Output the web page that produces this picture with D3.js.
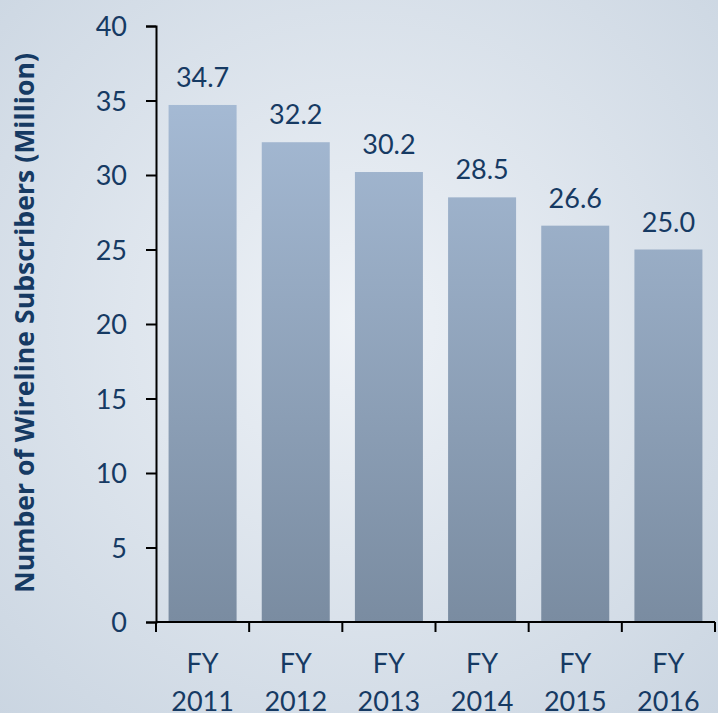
<!DOCTYPE html>
<html><head><meta charset="utf-8">
<script src="https://cdn.jsdelivr.net/npm/d3@7/dist/d3.min.js"></script>
<style>html,body{margin:0;padding:0;overflow:hidden;}svg{display:block;}</style>
</head><body>
<script>
const categories = ["FY 2011","FY 2012","FY 2013","FY 2014","FY 2015","FY 2016"];
const values = [34.7, 32.2, 30.2, 28.5, 26.6, 25.0];
const yTicks = [0,5,10,15,20,25,30,35,40];
const yTitle = "Number of Wireline Subscribers (Million)";

const W = 718, H = 713;
const svg = d3.select("body").append("svg").attr("width", W).attr("height", H);
const defs = svg.append("defs");
const bg = defs.append("radialGradient").attr("id","bg").attr("cx","0.5").attr("cy","0.45").attr("r","0.75");
bg.append("stop").attr("offset","0%").attr("stop-color","#eef2f7");
bg.append("stop").attr("offset","100%").attr("stop-color","#cad5e1");

svg.append("rect").attr("width",W).attr("height",H).attr("fill","url(#bg)");

const x = d3.scaleBand().domain(categories).range([156, 715]).paddingInner(0.27).paddingOuter(0.135);
const y = d3.scaleLinear().domain([0,40]).range([622, 26]);
const textColor = "#163a63";
const font = "Lato, 'Open Sans', sans-serif";

const barG = defs.append("linearGradient").attr("id","barU").attr("gradientUnits","userSpaceOnUse")
  .attr("x1",0).attr("x2",0).attr("y1",y(35)).attr("y2",y(0));
barG.append("stop").attr("offset","0%").attr("stop-color","#a5bad4");
barG.append("stop").attr("offset","100%").attr("stop-color","#7a8ca1");

svg.append("g").selectAll("rect").data(values).join("rect")
  .attr("x",(d,i)=>x(categories[i]))
  .attr("y",d=>y(d))
  .attr("width",x.bandwidth())
  .attr("height",d=>y(0)-y(d))
  .attr("fill","url(#barU)");

svg.append("g").selectAll("text").data(values).join("text")
  .attr("x",(d,i)=>x(categories[i])+x.bandwidth()/2)
  .attr("y",d=>y(d)-18)
  .attr("text-anchor","middle")
  .attr("font-family",font).attr("font-size",27)
  .attr("fill",textColor)
  .text(d=>d.toFixed(1));

// Y axis
const yAxis = svg.append("g").attr("transform","translate(156,0)")
  .call(d3.axisLeft(y).tickValues(yTicks).tickSize(10).tickPadding(19));
yAxis.select(".domain").attr("stroke","#000").attr("stroke-width",2);
yAxis.selectAll(".tick line").attr("stroke","#000").attr("stroke-width",2);
yAxis.selectAll(".tick text").attr("font-family",font).attr("font-size",27).attr("fill",textColor).attr("dy","0.36em");

// X axis
const xAxisG = svg.append("g").attr("transform","translate(0,622)");
xAxisG.append("line").attr("x1",156).attr("x2",715).attr("stroke","#000").attr("stroke-width",2);
const bounds = [x.range()[0]].concat(categories.map(c=>x(c)+x.bandwidth()+x.step()*x.paddingInner()/2));
bounds[bounds.length-1] = x.range()[1];
xAxisG.selectAll("line.t").data(bounds).join("line").attr("class","t")
  .attr("x1",d=>d).attr("x2",d=>d).attr("y1",0).attr("y2",10)
  .attr("stroke","#000").attr("stroke-width",2);
const xl = xAxisG.selectAll("text").data(categories).join("text")
  .attr("x",c=>x(c)+x.bandwidth()/2)
  .attr("text-anchor","middle")
  .attr("font-family",font).attr("font-size",27).attr("fill",textColor);
xl.append("tspan").attr("x",c=>x(c)+x.bandwidth()/2).attr("y",51).text(c=>c.split(" ")[0]);
xl.append("tspan").attr("x",c=>x(c)+x.bandwidth()/2).attr("y",89).text(c=>c.split(" ")[1]);

// Y title
const title = svg.append("text")
  .attr("transform","translate(34,323) rotate(-90)")
  .attr("text-anchor","middle")
  .attr("font-family","'Open Sans', sans-serif").attr("font-weight","bold").attr("font-size",22)
  .attr("fill",textColor)
  .text(yTitle);
const len = title.node().getComputedTextLength();
title.attr("font-size", 22 * 540 / len);
</script>
</body></html>
